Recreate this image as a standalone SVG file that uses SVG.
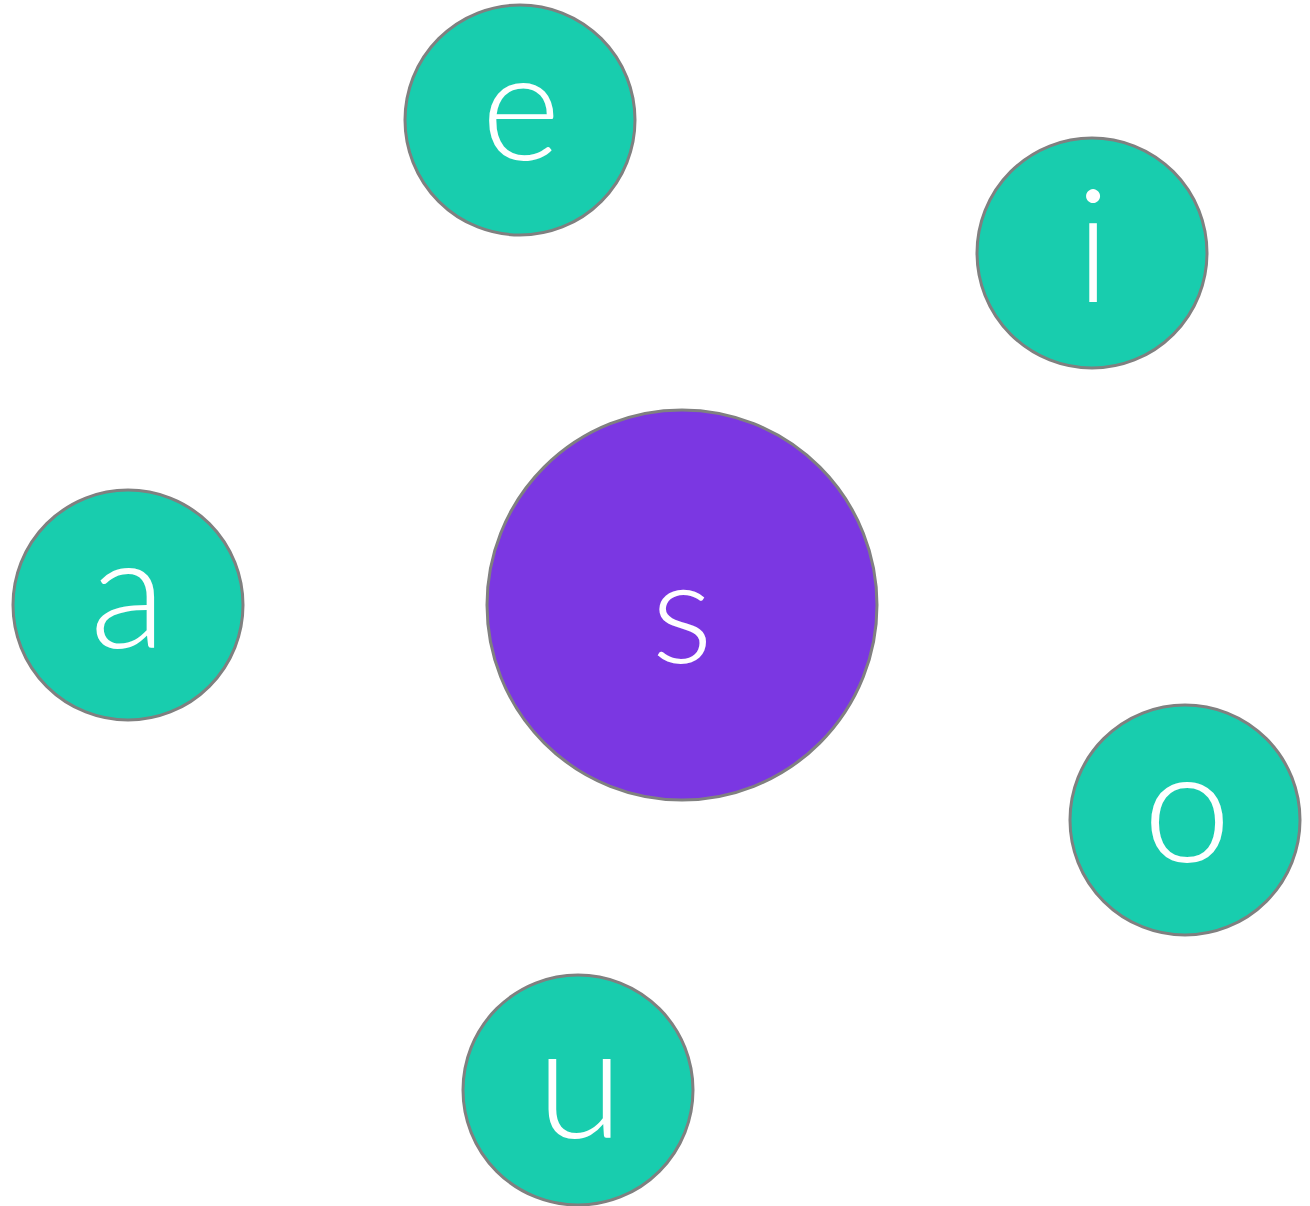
<svg xmlns="http://www.w3.org/2000/svg" width="1310" height="1206" viewBox="0 0 1310 1206">
<style>
.n{fill:#18CDAE;stroke:#808080;stroke-width:3}
.c{fill:#7B37E2;stroke:#808080;stroke-width:3}
.t{fill:#fff;font-family:Lato,"DejaVu Sans",sans-serif;font-weight:300;text-anchor:middle;font-size:158px}
</style>
<rect width="1310" height="1206" fill="#fff"/>
<g id="connectors"></g>
<g id="node-e"><circle class="n" cx="520" cy="120" r="115"/><text class="t" x="521" y="160" style="font-size:152px">e</text></g>
<g id="node-i"><circle class="n" cx="1092" cy="253" r="115"/><text class="t" x="1093" y="302">i</text></g>
<g id="node-a"><circle class="n" cx="128" cy="605" r="115"/><text class="t" x="128" y="648">a</text></g>
<g id="node-s"><circle class="c" cx="682" cy="605" r="195"/><text class="t" x="682" y="663" style="font-size:145px">s</text></g>
<g id="node-o"><circle class="n" cx="1185" cy="820" r="115"/><text class="t" x="1187" y="862">o</text></g>
<g id="node-u"><circle class="n" cx="578" cy="1090" r="115"/><text class="t" x="580" y="1138">u</text></g>
</svg>
